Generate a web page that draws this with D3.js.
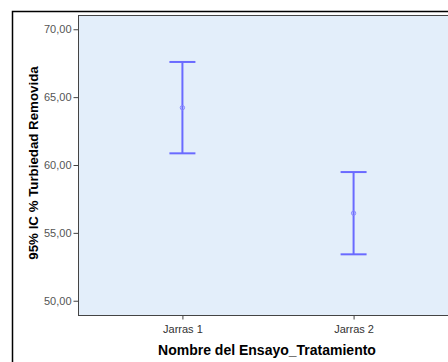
<!DOCTYPE html>
<html>
<head>
<meta charset="utf-8">
<script src="https://cdn.jsdelivr.net/npm/d3@7"></script>
<style>
  html, body { margin: 0; padding: 0; background: #fff; }
  svg { display: block; font-family: "Liberation Sans", Arial, sans-serif; }
</style>
</head>
<body>
<svg id="chart" width="448" height="362"></svg>
<script>
// Error-bar data: 95% confidence intervals of % turbidity removed
const categories = ["Jarras 1", "Jarras 2"];
const means = [64.22, 56.45];
const lower = [60.86, 53.42];
const upper = [67.59, 59.48];
const yTicks = [50, 55, 60, 65, 70];

const svg = d3.select("#chart");
const W = 448, H = 362;
const plot = { left: 78, top: 15, right: 458, bottom: 315 };

// outer chart frame (runs off the right/bottom edge)
svg.append("rect")
  .attr("x", 12.5).attr("y", 11.5)
  .attr("width", W).attr("height", H)
  .attr("fill", "#fff").attr("stroke", "#000").attr("stroke-width", 1.5);

const y = d3.scaleLinear().domain([48.95, 71.05]).range([plot.bottom, plot.top]);
const x = d3.scalePoint().domain(categories).range([plot.left, plot.right]).padding(0.61);

// plot background
svg.append("rect")
  .attr("x", plot.left + 0.5).attr("y", plot.top + 0.5)
  .attr("width", plot.right - plot.left).attr("height", plot.bottom - plot.top)
  .attr("fill", "#E3EEFA").attr("stroke", "#444").attr("stroke-width", 1);

const fmt = d => d3.format(".2f")(d).replace(".", ",");

// y axis
const yAxis = svg.append("g")
  .attr("transform", `translate(${plot.left + 0.5},0)`)
  .call(d3.axisLeft(y).tickValues(yTicks).tickFormat(fmt).tickSize(5).tickPadding(2));
yAxis.select(".domain").remove();
yAxis.selectAll(".tick line").attr("stroke", "#444");
yAxis.selectAll(".tick text").attr("fill", "#555").style("font-size", "11px");

// x axis
const xAxis = svg.append("g")
  .attr("transform", `translate(0,${plot.bottom + 0.5})`)
  .call(d3.axisBottom(x).tickSize(4).tickPadding(6));
xAxis.select(".domain").remove();
xAxis.selectAll(".tick line").attr("stroke", "#444");
xAxis.selectAll(".tick text").attr("fill", "#333").style("font-size", "11px");

// axis titles
svg.append("text")
  .attr("x", 267).attr("y", 355)
  .attr("text-anchor", "middle")
  .style("font-size", "14px").style("font-weight", "bold")
  .text("Nombre del Ensayo_Tratamiento");

svg.append("text")
  .attr("transform", `translate(38,163) rotate(-90)`)
  .attr("text-anchor", "middle")
  .style("font-size", "13.3px").style("font-weight", "bold")
  .text("95% IC % Turbiedad Removida");

// error bars
const barColor = "#6A6AFF";
const cap = 13;
const bars = svg.append("g").selectAll("g")
  .data(categories.map((c, i) => ({ c, m: means[i], lo: lower[i], hi: upper[i] })))
  .join("g");

bars.append("line")
  .attr("x1", d => x(d.c)).attr("x2", d => x(d.c))
  .attr("y1", d => y(d.hi)).attr("y2", d => y(d.lo))
  .attr("stroke", barColor).attr("stroke-width", 2);
bars.append("line")
  .attr("x1", d => x(d.c) - cap).attr("x2", d => x(d.c) + cap)
  .attr("y1", d => y(d.hi)).attr("y2", d => y(d.hi))
  .attr("stroke", barColor).attr("stroke-width", 2);
bars.append("line")
  .attr("x1", d => x(d.c) - cap).attr("x2", d => x(d.c) + cap)
  .attr("y1", d => y(d.lo)).attr("y2", d => y(d.lo))
  .attr("stroke", barColor).attr("stroke-width", 2);
bars.append("circle")
  .attr("cx", d => x(d.c)).attr("cy", d => y(d.m))
  .attr("r", 2.2)
  .attr("fill", "none").attr("stroke", "#8A8AFF").attr("stroke-width", 1);
</script>
</body>
</html>
